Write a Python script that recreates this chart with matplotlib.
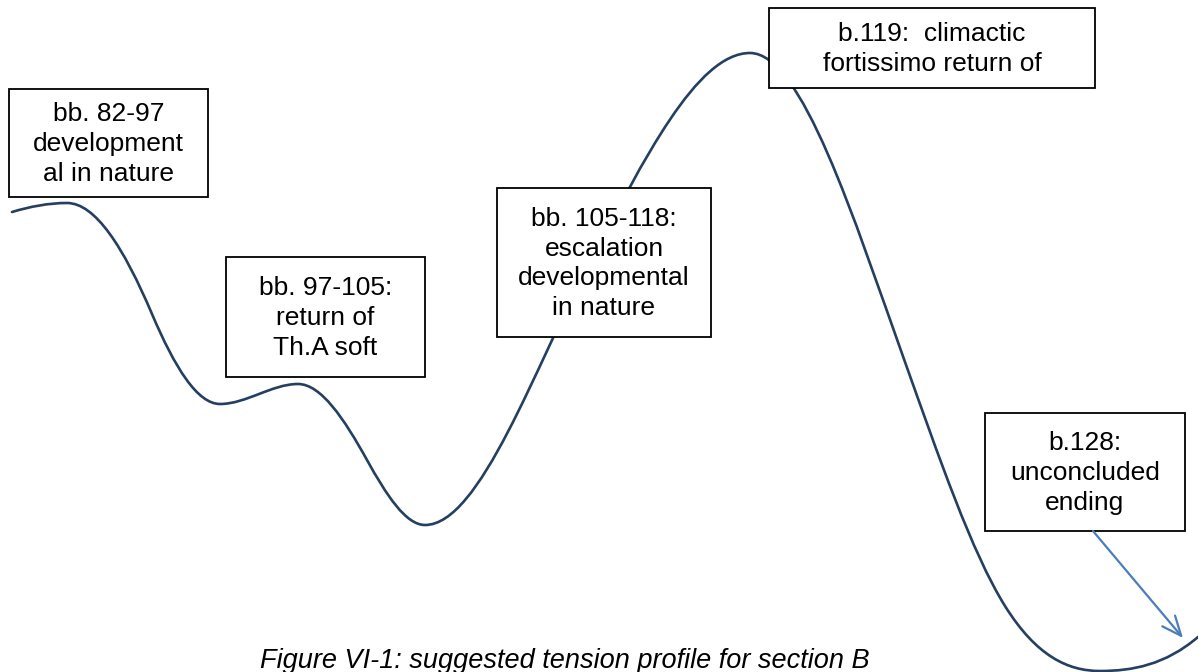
import numpy as np
import matplotlib
matplotlib.use("Agg")
import matplotlib.pyplot as plt
from matplotlib.path import Path
from matplotlib.patches import PathPatch, Rectangle

plt.rcParams['font.family'] = ['Liberation Sans', 'DejaVu Sans']

# Tension profile key points (x position along section, tension level, local slope)
key_x = [12, 67, 152, 220, 298, 367, 425, 590, 750, 905, 1005, 1100, 1198]
key_tension = [460, 469, 358, 268, 288, 212, 147, 410, 619, 310, 66, 1, 35]
key_slope = [0.3, 0.0, -2.35, 0.0, 0.0, -1.8, 0.0, 1.9, 0.0, -2.8, -1.6, 0.0, 0.85]

# Annotation boxes: labels and box extents (left, right, top, bottom in canvas units)
box_labels = ["bb. 82-97\ndevelopment\nal in nature",
              "bb. 97-105:\nreturn of\nTh.A soft",
              "bb. 105-118:\nescalation\ndevelopmental\nin nature",
              "b.119:  climactic\nfortissimo return of",
              "b.128:\nunconcluded\nending"]
box_left = [9, 226, 497, 769, 985]
box_right = [208, 425, 711, 1095, 1185]
box_top = [583, 415, 484, 664, 259]
box_bottom = [475, 295, 335, 584, 141]

arrow_start = (1093, 141)
arrow_end = (1183, 34)

caption = "Figure VI-1: suggested tension profile for section B"

W, H = 1198, 672
fig = plt.figure(figsize=(W / 100, H / 100), dpi=100)
ax = fig.add_axes([0, 0, 1, 1])
ax.set_xlim(0, W)
ax.set_ylim(0, H)
ax.axis('off')

# smooth curve: cubic Hermite segments through key points, drawn as a Bezier path
x = np.asarray(key_x, float)
y = np.asarray(key_tension, float)
m = np.asarray(key_slope, float)
h = np.diff(x)
verts = [(x[0], y[0])]
codes = [Path.MOVETO]
for k in range(len(x) - 1):
    verts += [(x[k] + h[k] / 3, y[k] + m[k] * h[k] / 3),
              (x[k + 1] - h[k] / 3, y[k + 1] - m[k + 1] * h[k] / 3),
              (x[k + 1], y[k + 1])]
    codes += [Path.CURVE4] * 3
ax.add_patch(PathPatch(Path(verts, codes), fill=False, edgecolor='#243f60',
                       lw=1.9, zorder=2, capstyle='round'))

for lab, l, r, t, b in zip(box_labels, box_left, box_right, box_top, box_bottom):
    ax.add_patch(Rectangle((l, b), r - l, t - b, facecolor='white',
                           edgecolor='black', lw=1.3, zorder=3))
    ax.text((l + r) / 2, (t + b) / 2 - 1, lab, ha='center', va='center',
            fontsize=19, linespacing=1.3, color='black', zorder=4)

ax.annotate('', xy=arrow_end, xytext=arrow_start,
            arrowprops=dict(arrowstyle='->,head_length=1.4,head_width=0.6',
                            color='#4a7ebb', lw=1.6, shrinkA=0, shrinkB=0),
            zorder=5)

ax.text(565, 4, caption, ha='center', va='baseline', fontsize=19.5,
        style='italic', color='black')

fig.savefig('out.png', dpi=100)
